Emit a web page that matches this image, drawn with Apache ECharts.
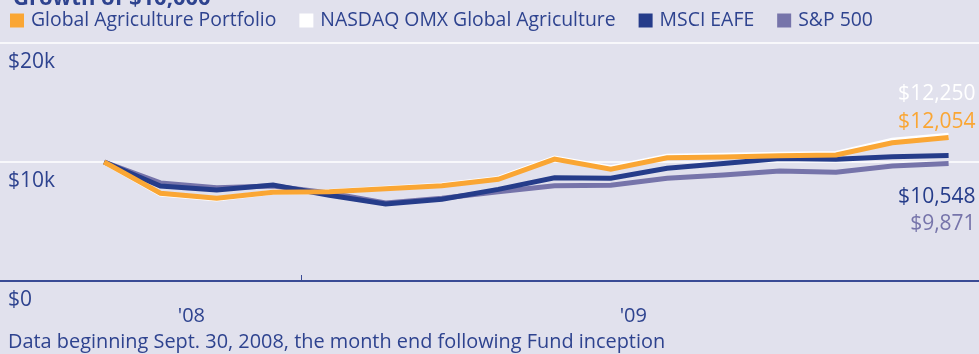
<!DOCTYPE html>
<html>
<head>
<meta charset="utf-8">
<script src="https://cdn.jsdelivr.net/npm/echarts@6/dist/echarts.min.js"></script>
<style>
  html, body { margin: 0; padding: 0; background: #e1e1ed; }
  #chart { width: 979px; height: 354px; }
</style>
</head>
<body>
<div id="chart"></div>
<script>
// Month-end dates, Sept. 2008 through Dec. 2009
const months = ['Sep 08','Oct 08','Nov 08','Dec 08','Jan 09','Feb 09','Mar 09','Apr 09',
                'May 09','Jun 09','Jul 09','Aug 09','Sep 09','Oct 09','Nov 09','Dec 09'];

// Growth of $10,000 for each series
const globalAgriculture = [10000, 7370, 6950, 7450, 7500, 7750, 8010, 8550,
                           10250, 9390, 10360, 10420, 10530, 10590, 11620, 12054];
const nasdaqOmxAgri     = [10000, 7300, 6900, 7450, 7520, 7790, 8060, 8620,
                           10330, 9520, 10480, 10560, 10660, 10720, 11820, 12250];
const msciEafe          = [10000, 7980, 7650, 8070, 7200, 6470, 6870, 7700,
                           8680, 8630, 9470, 9870, 10290, 10230, 10450, 10548];
const sp500             = [10000, 8240, 7840, 7980, 7400, 6560, 6960, 7500,
                           8010, 8040, 8630, 8900, 9240, 9130, 9660, 9871];

const yearLabels = ["'08", "'09"];
const yTickLabels = { 0: '$0', 10000: '$10k', 20000: '$20k' };

const navyText = '#2e438f';
const fontFamily = 'Open Sans, DejaVu Sans, sans-serif';

function pairs(values) {
  return values.map((v, i) => [i, v]);
}
function money(v) {
  return '$' + v.toLocaleString('en-US');
}

// Year boundary between Dec '08 and Jan '09, and the centre of each year's span
const lastIdx = months.length - 1;
const yearBoundary = months.indexOf('Jan 09') - 0.5;
const yearCentres = [yearBoundary / 2 - 0.2, (yearBoundary + lastIdx) / 2 + 0.15];

function lineSeries(name, values, color, labelOffset) {
  return {
    name: name,
    type: 'line',
    data: pairs(values),
    showSymbol: false,
    symbol: 'none',
    lineStyle: { color: color, width: 5, join: 'miter' },
    itemStyle: { color: color },
    emphasis: { disabled: true },
    animation: false,
    endLabel: {
      show: true,
      formatter: p => money(p.value[1]),
      color: color,
      fontFamily: fontFamily,
      fontSize: 21,
      align: 'right',
      verticalAlign: 'middle',
      offset: labelOffset
    }
  };
}

const chart = echarts.init(document.getElementById('chart'), null, { renderer: 'canvas' });

chart.setOption({
  backgroundColor: '#e1e1ed',
  animation: false,
  title: {
    text: 'Growth of $10,000',
    left: 8,
    top: -17,
    textStyle: { color: navyText, fontSize: 22, fontWeight: 'bold', fontFamily: fontFamily }
  },
  legend: {
    data: ['Global Agriculture Portfolio', 'NASDAQ OMX Global Agriculture', 'MSCI EAFE', 'S&P 500'],
    left: 5,
    top: 6,
    icon: 'rect',
    itemWidth: 14,
    itemHeight: 14,
    itemGap: 23,
    selectedMode: false,
    textStyle: { color: navyText, fontSize: 19.4, fontFamily: fontFamily, padding: [0, 0, 0, 2] }
  },
  grid: { left: 0, right: 0, top: 43, bottom: 73 },
  xAxis: {
    type: 'value',
    min: -1.85,
    max: 15.54,
    splitLine: { show: false },
    axisLine: { show: true, lineStyle: { color: '#3a4b95', width: 2 } },
    axisTick: {
      show: true,
      inside: true,
      length: 6,
      customValues: [yearBoundary],
      lineStyle: { color: '#3a4b95', width: 1 }
    },
    axisLabel: {
      show: true,
      customValues: yearCentres,
      formatter: v => (v < yearBoundary ? yearLabels[0] : yearLabels[1]),
      color: navyText,
      fontSize: 20,
      fontFamily: fontFamily,
      margin: 25
    }
  },
  yAxis: {
    type: 'value',
    min: 0,
    max: 20000,
    interval: 10000,
    axisLine: { show: false },
    axisTick: { show: false },
    splitLine: { show: true, lineStyle: { color: '#ffffff', width: 1.5 } },
    axisLabel: {
      inside: true,
      margin: 8,
      align: 'left',
      verticalAlign: 'top',
      padding: [9, 0, 0, 0],
      color: navyText,
      fontSize: 21,
      fontFamily: fontFamily,
      formatter: v => yTickLabels[v]
    }
  },
  graphic: [{
    type: 'text',
    left: 8,
    top: 332,
    style: {
      text: 'Data beginning Sept. 30, 2008, the month end following Fund inception',
      fill: navyText,
      fontSize: 19.9,
      fontFamily: fontFamily
    }
  }],
  series: [
    lineSeries('NASDAQ OMX Global Agriculture', nasdaqOmxAgri, '#ffffff', [19, -41]),
    lineSeries('S&P 500', sp500, '#7674aa', [19, 60]),
    lineSeries('MSCI EAFE', msciEafe, '#253c8a', [19, 42]),
    lineSeries('Global Agriculture Portfolio', globalAgriculture, '#faa634', [19, -16])
  ]
});
</script>
</body>
</html>
